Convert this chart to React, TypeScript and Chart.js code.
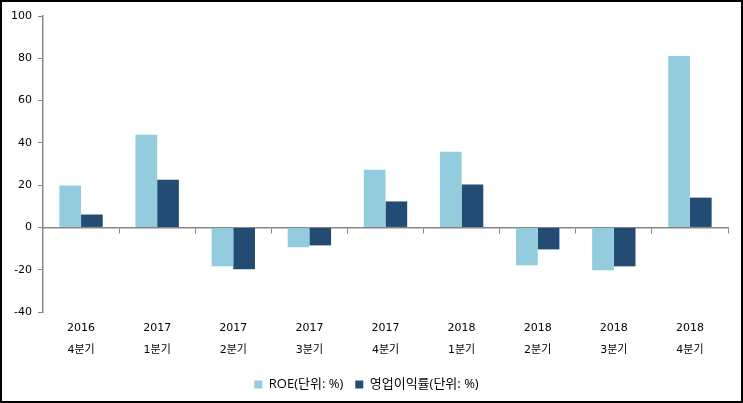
import React, { useEffect, useRef } from "react";
import { Chart, registerables } from "chart.js";

Chart.register(...registerables);

const categories: string[][] = [
  ["2016", "4분기"],
  ["2017", "1분기"],
  ["2017", "2분기"],
  ["2017", "3분기"],
  ["2017", "4분기"],
  ["2018", "1분기"],
  ["2018", "2분기"],
  ["2018", "3분기"],
  ["2018", "4분기"],
];
const roeValues = [19.8, 43.8, -18.4, -9.4, 27.3, 35.8, -17.9, -20.3, 81.1];
const opMarginValues = [6.1, 22.6, -19.8, -8.5, 12.3, 20.3, -10.4, -18.4, 14.1];
const roeLabel = "ROE(단위: %)";
const opMarginLabel = "영업이익률(단위: %)";

const FONT = "'DejaVu Sans', 'Noto Sans CJK KR', sans-serif";
const LEGEND_FONT = "'Open Sans', 'Noto Sans CJK KR', sans-serif";
const AXIS_GRAY = "#868686";

export default function App() {
  const ref = useRef<HTMLCanvasElement | null>(null);
  useEffect(() => {
    document.body.style.margin = "0";
    if (!ref.current) return;
    const chart = new Chart(ref.current, {
      type: "bar",
      data: {
        labels: categories,
        datasets: [
          {
            label: roeLabel,
            data: roeValues,
            backgroundColor: "#93CDDD",
            xAxisID: "x",
            categoryPercentage: 0.57,
            barPercentage: 1,
          },
          {
            label: opMarginLabel,
            data: opMarginValues,
            backgroundColor: "#234B74",
            xAxisID: "x",
            categoryPercentage: 0.57,
            barPercentage: 1,
          },
        ],
      },
      options: {
        animation: false,
        responsive: false,
        maintainAspectRatio: false,
        layout: { padding: { top: 14, right: 13, left: 3, bottom: 0 } },
        plugins: {
          tooltip: { enabled: false },
          legend: {
            position: "bottom",
            labels: {
              boxWidth: 8,
              boxHeight: 8,
              padding: 12,
              color: "#000",
              font: { family: LEGEND_FONT, size: 13 },
            },
          },
        },
        scales: {
          x: {
            type: "category",
            position: { y: 0 } as any,
            offset: true,
            grid: {
              display: true,
              offset: true,
              drawOnChartArea: false,
              drawTicks: true,
              tickLength: 5,
              color: AXIS_GRAY,
            },
            border: { display: true, color: AXIS_GRAY, width: 1.5 },
            ticks: { display: false },
          },
          x2: {
            type: "category",
            position: "bottom",
            offset: true,
            grid: { display: false, drawTicks: false },
            border: { display: false },
            ticks: {
              color: "#000",
              padding: 5,
              maxRotation: 0,
              autoSkip: false,
              font: { family: FONT, size: 11, lineHeight: 2.0 },
            },
          },
          y: {
            min: -40,
            max: 100,
            ticks: {
              stepSize: 20,
              color: "#000",
              padding: 6,
              font: { family: FONT, size: 11 },
            },
            grid: {
              display: true,
              drawOnChartArea: false,
              drawTicks: true,
              tickLength: 5,
              color: AXIS_GRAY,
            },
            border: { display: true, color: AXIS_GRAY, width: 1.5 },
          },
        },
      },
    });
    return () => chart.destroy();
  }, []);
  return (
    <div
      style={{
        width: 743,
        height: 403,
        boxSizing: "border-box",
        border: "2px solid #000",
        background: "#fff",
        position: "absolute",
        left: 0,
        top: 0,
      }}
    >
      <canvas ref={ref} width={739} height={399} style={{ display: "block" }} />
    </div>
  );
}
